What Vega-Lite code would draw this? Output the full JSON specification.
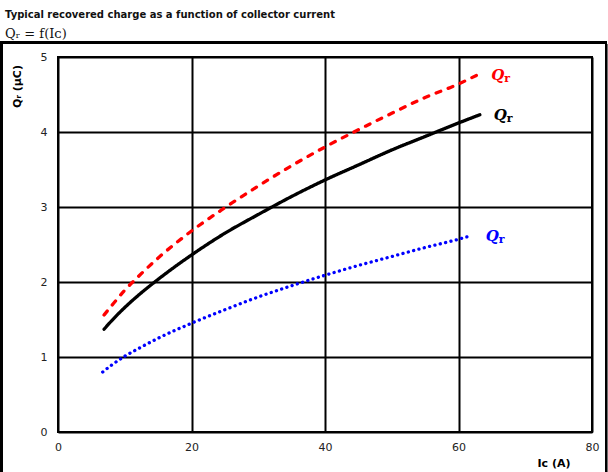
{
  "$schema": "https://vega.github.io/schema/vega-lite/v6.json",
  "width": 534,
  "height": 375,
  "autosize": {"type": "none"},
  "padding": {"left": 58, "top": 57, "right": 16, "bottom": 40},
  "title": {
    "text": "Typical recovered charge as a function of collector current",
    "subtitle": "Qᵣ = f(Iᴄ)",
    "anchor": "start",
    "frame": "group",
    "dx": -53,
    "offset": 1,
    "font": "DejaVu Sans",
    "fontSize": 10,
    "fontWeight": "bold",
    "color": "#111",
    "subtitleFont": "DejaVu Serif",
    "subtitleFontSize": 13,
    "subtitleColor": "#111",
    "subtitlePadding": 8
  },
  "config": {
    "view": {"stroke": "black", "strokeWidth": 2},
    "axis": {
      "grid": true,
      "gridColor": "black",
      "gridWidth": 2,
      "gridOpacity": 1,
      "ticks": false,
      "domain": false,
      "labelFont": "DejaVu Sans",
      "labelFontSize": 11,
      "labelColor": "#222",
      "titleFont": "DejaVu Sans",
      "titleFontSize": 11,
      "titleFontWeight": "bold",
      "titleColor": "black"
    }
  },
  "data": {
    "values": [
      {"series": "red", "Ic": 6.9, "Qr": 1.56},
      {"series": "red", "Ic": 8, "Qr": 1.68},
      {"series": "red", "Ic": 10, "Qr": 1.89},
      {"series": "red", "Ic": 12, "Qr": 2.07},
      {"series": "red", "Ic": 15, "Qr": 2.32},
      {"series": "red", "Ic": 20, "Qr": 2.68},
      {"series": "red", "Ic": 25, "Qr": 2.99},
      {"series": "red", "Ic": 30, "Qr": 3.28},
      {"series": "red", "Ic": 35, "Qr": 3.55},
      {"series": "red", "Ic": 40, "Qr": 3.8},
      {"series": "red", "Ic": 45, "Qr": 4.03},
      {"series": "red", "Ic": 50, "Qr": 4.25},
      {"series": "red", "Ic": 55, "Qr": 4.46},
      {"series": "red", "Ic": 60, "Qr": 4.64},
      {"series": "red", "Ic": 62.8, "Qr": 4.76},
      {"series": "black", "Ic": 6.9, "Qr": 1.37},
      {"series": "black", "Ic": 8, "Qr": 1.48},
      {"series": "black", "Ic": 10, "Qr": 1.66},
      {"series": "black", "Ic": 12, "Qr": 1.82},
      {"series": "black", "Ic": 14.2, "Qr": 1.98},
      {"series": "black", "Ic": 17, "Qr": 2.17},
      {"series": "black", "Ic": 20, "Qr": 2.36},
      {"series": "black", "Ic": 25, "Qr": 2.65},
      {"series": "black", "Ic": 30, "Qr": 2.9},
      {"series": "black", "Ic": 35, "Qr": 3.14},
      {"series": "black", "Ic": 40, "Qr": 3.36},
      {"series": "black", "Ic": 45, "Qr": 3.56},
      {"series": "black", "Ic": 50, "Qr": 3.76},
      {"series": "black", "Ic": 55, "Qr": 3.94},
      {"series": "black", "Ic": 60, "Qr": 4.12},
      {"series": "black", "Ic": 63.2, "Qr": 4.23},
      {"series": "blue", "Ic": 6.7, "Qr": 0.8},
      {"series": "blue", "Ic": 8, "Qr": 0.89},
      {"series": "blue", "Ic": 10, "Qr": 1.01},
      {"series": "blue", "Ic": 12, "Qr": 1.11},
      {"series": "blue", "Ic": 15, "Qr": 1.25},
      {"series": "blue", "Ic": 20, "Qr": 1.45},
      {"series": "blue", "Ic": 25, "Qr": 1.63},
      {"series": "blue", "Ic": 30, "Qr": 1.8},
      {"series": "blue", "Ic": 35, "Qr": 1.95},
      {"series": "blue", "Ic": 40, "Qr": 2.09},
      {"series": "blue", "Ic": 45, "Qr": 2.22},
      {"series": "blue", "Ic": 50, "Qr": 2.34},
      {"series": "blue", "Ic": 55, "Qr": 2.46},
      {"series": "blue", "Ic": 60, "Qr": 2.57},
      {"series": "blue", "Ic": 62, "Qr": 2.62}
    ]
  },
  "layer": [
    {
      "mark": {"type": "rect", "fill": null, "filled": false, "stroke": "black", "strokeWidth": 2, "clip": false},
      "encoding": {
        "x": {"datum": -8.5, "type": "quantitative", "scale": {"domain": [0, 80], "nice": false}},
        "x2": {"datum": 82.1},
        "y": {"datum": 5.19, "type": "quantitative", "scale": {"domain": [0, 5], "nice": false}},
        "y2": {"datum": -0.8}
      }
    },
    {
      "mark": {"type": "line", "strokeWidth": 3.3, "strokeCap": "round", "strokeJoin": "round", "interpolate": "monotone"},
      "encoding": {
        "x": {
          "field": "Ic", "type": "quantitative",
          "scale": {"domain": [0, 80], "nice": false},
          "axis": {"values": [0, 20, 40, 60, 80], "format": "d", "labelPadding": 9, "labelFlush": false, "title": "Iᴄ (A)", "titleX": 512, "titleY": 31, "titleAlign": "right", "titleBaseline": "middle", "titleAngle": 0}
        },
        "y": {
          "field": "Qr", "type": "quantitative",
          "scale": {"domain": [0, 5], "nice": false},
          "axis": {"values": [0, 1, 2, 3, 4, 5], "format": "d", "labelPadding": 11, "title": "Qᵣ (µC)", "titleX": -41, "titleY": 29, "titleAlign": "center", "titleBaseline": "middle", "titleAngle": 270}
        },
        "color": {"field": "series", "type": "nominal", "scale": {"domain": ["red", "black", "blue"], "range": ["#ff0000", "#000000", "#0000ff"]}, "legend": null},
        "strokeDash": {"field": "series", "type": "nominal", "scale": {"domain": ["red", "black", "blue"], "range": [[5, 8], [1, 0], [0.1, 5.4]]}, "legend": null}
      }
    },
    {
      "transform": [
        {"joinaggregate": [{"op": "max", "field": "Ic", "as": "maxI"}], "groupby": ["series"]},
        {"filter": "datum.Ic == datum.maxI"}
      ],
      "mark": {"type": "text", "text": "Q", "align": "left", "baseline": "middle", "dx": 14, "dy": 0, "font": "DejaVu Serif", "fontSize": 15, "fontWeight": "bold", "fontStyle": "italic"},
      "encoding": {
        "x": {"field": "Ic", "type": "quantitative"},
        "y": {"field": "Qr", "type": "quantitative"},
        "color": {"field": "series", "type": "nominal", "legend": null}
      }
    },
    {
      "transform": [
        {"joinaggregate": [{"op": "max", "field": "Ic", "as": "maxI"}], "groupby": ["series"]},
        {"filter": "datum.Ic == datum.maxI"}
      ],
      "mark": {"type": "text", "text": "r", "align": "left", "baseline": "middle", "dx": 27, "dy": 4, "font": "DejaVu Serif", "fontSize": 11, "fontWeight": "bold"},
      "encoding": {
        "x": {"field": "Ic", "type": "quantitative"},
        "y": {"field": "Qr", "type": "quantitative"},
        "color": {"field": "series", "type": "nominal", "legend": null}
      }
    }
  ]
}
